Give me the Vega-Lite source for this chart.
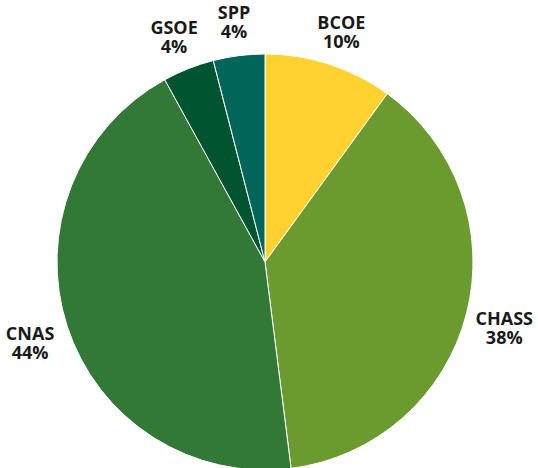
{
  "$schema": "https://vega.github.io/schema/vega-lite/v6.json",
  "autosize": "none",
  "padding": {"left": 0, "top": 0, "right": 8, "bottom": 0},
  "width": 530,
  "height": 524,
  "background": "white",
  "view": {"stroke": null},
  "data": {"values": [
    {"school": "BCOE", "share": 10, "label": "BCOE\n10%", "ord": 1},
    {"school": "CHASS", "share": 38, "label": "CHASS\n38%", "ord": 2},
    {"school": "CNAS", "share": 44, "label": "CNAS\n44%", "ord": 3},
    {"school": "GSOE", "share": 4, "label": "GSOE\n4%", "ord": 4},
    {"school": "SPP", "share": 4, "label": "SPP\n4%", "ord": 5}
  ]},
  "encoding": {
    "theta": {"field": "share", "type": "quantitative", "stack": true},
    "order": {"field": "ord", "type": "quantitative"}
  },
  "layer": [
    {
      "mark": {"type": "arc", "outerRadius": 208, "stroke": "white", "strokeWidth": 1},
      "encoding": {
        "color": {
          "field": "school", "type": "nominal", "legend": null,
          "scale": {"domain": ["BCOE", "CHASS", "CNAS", "GSOE", "SPP"],
                    "range": ["#FFD22F", "#6B9A2F", "#327836", "#005430", "#00665A"]}
        }
      }
    },
    {
      "mark": {"type": "text", "radius": 247, "dy": -3, "font": "Open Sans", "fontWeight": "bold", "fontSize": 18, "lineBreak": "\n", "lineHeight": 19, "align": "center", "baseline": "middle", "color": "#1a1a1a"},
      "encoding": {
        "text": {"field": "label", "type": "nominal"}
      }
    }
  ]
}
